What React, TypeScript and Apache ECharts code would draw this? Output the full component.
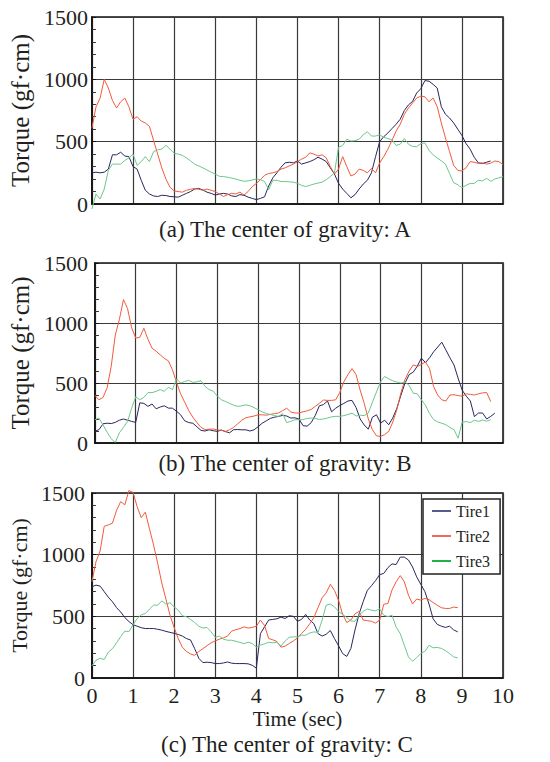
import React, { useEffect, useRef } from "react";
import * as echarts from "echarts";

// sampling step of the traces (seconds)
const DT = 0.1;

const X_TICKS = [0, 1, 2, 3, 4, 5, 6, 7, 8, 9, 10];
const Y_TICKS = [0, 500, 1000, 1500];
const SERIES_NAMES = ["Tire1", "Tire2", "Tire3"];
const PANEL_TITLES = [
  "(a) The center of gravity: A",
  "(b) The center of gravity: B",
  "(c) The center of gravity: C",
];

// Panel A
const A_TIRE1 = [
  250, 255, 250, 255, 280, 395, 395, 415, 385, 380,
  300, 280, 190, 110, 80, 65, 60, 70, 68, 60,
  58, 55, 70, 85, 100, 120, 125, 112, 95, 85,
  72, 80, 85, 80, 65, 60, 75, 70, 55, 45,
  35, 45, 58, 145, 210, 250, 295, 330, 335, 330,
  345, 320, 330, 340, 355, 375, 360, 340, 290, 240,
  166, 120, 85, 50, 75, 120, 160, 190, 250, 380,
  500, 540, 570, 605, 640, 680, 750, 795, 823, 890,
  925, 990, 985, 960, 930, 780, 720, 690, 650, 600,
  550, 485, 440, 375, 330, 325, 335, 345,
];
const A_TIRE2 = [
  608, 780, 850, 1000, 930, 830, 770, 820, 850, 780,
  680, 700, 665, 650, 622, 510, 400, 290, 200, 135,
  105, 100, 95, 110, 118, 125, 118, 110, 120, 110,
  100, 80, 60, 75, 86, 80, 95, 72, 100, 139,
  165, 195, 230, 245, 250, 260, 280, 290, 305, 320,
  340, 360, 375, 410, 400, 385, 395, 370, 300, 240,
  280, 380, 300, 225, 240, 280, 270, 250, 285, 250,
  330, 380, 440, 510, 585, 640, 720, 770, 810, 850,
  865, 860, 820, 850, 780, 650, 530, 420, 310, 270,
  265, 290, 340, 335, 325, 330, 320, 327, 345, 340,
  315,
];
const A_TIRE3 = [
  -40, 80, 40, 120, 270, 320, 320, 320, 350, 370,
  400, 310, 340, 380, 340, 420, 434, 440, 470, 440,
  407, 400, 390, 370, 345, 320, 305, 290, 273, 255,
  240, 222, 220, 215, 208, 200, 190, 182, 185, 193,
  200, 195, 180, 115, 190, 190, 180, 180, 178, 175,
  166, 150, 140, 150, 160, 168, 175, 195, 220, 250,
  455, 470, 520, 505, 508, 520, 555, 580, 545, 545,
  555, 535, 525, 515, 470, 480, 525, 480, 461, 460,
  485, 490, 430, 394, 370, 345, 320, 245, 170, 155,
  130, 150, 165, 165, 190, 185, 206, 182, 200, 210,
  220,
];

// Panel B
const B_TIRE1 = [
  97, 111, 160, 165, 162, 172, 190, 200, 190, 180,
  172, 335, 330, 305, 325, 285, 300, 310, 291, 290,
  265, 235, 185, 170, 165, 135, 105, 100, 110, 102,
  97, 108, 95, 85, 111, 112, 110, 110, 100, 110,
  136, 165, 185, 205, 215, 222, 230, 225, 208, 210,
  200, 145, 140, 170, 230, 310, 320, 350, 260, 290,
  312, 330, 350, 355, 295, 200, 150, 115, 215, 235,
  166, 190, 152, 210, 290, 400, 500, 570, 590, 640,
  707, 670, 710, 760, 800, 840, 776, 710, 650, 540,
  440, 390, 350, 220, 250, 250, 200, 222, 249,
];
const B_TIRE2 = [
  396, 360, 380, 460, 640, 900, 1030, 1195, 1120, 960,
  875, 880, 956, 865, 790, 765, 735, 705, 685, 610,
  505, 410, 340, 270, 215, 170, 130, 112, 115, 116,
  110, 105, 97, 110, 130, 160, 190, 210, 218, 225,
  235, 235, 232, 238, 245, 250, 270, 290, 258, 250,
  250, 260, 268, 280, 305, 330, 358, 355, 355, 360,
  420, 510, 570, 620, 570, 440, 330, 200, 110, 60,
  55, 70, 97, 175, 280, 420, 530, 600, 651, 638,
  655, 675, 620, 470, 400, 360, 350, 400, 402, 395,
  390, 410, 405, 400, 410, 418, 420, 345,
];
const B_TIRE3 = [
  194, 208, 150, 90, 35, 5, 85, 130, 180, 290,
  385, 360, 380, 420, 420, 430, 445, 430, 465, 445,
  535, 500, 512, 522, 505, 510, 520, 471, 445, 432,
  390, 360, 346, 330, 315, 305, 310, 318, 310, 295,
  277, 260, 245, 238, 228, 222, 245, 170, 180, 194,
  194, 195, 205, 208, 205, 196, 200, 208, 218, 222,
  222, 228, 238, 249, 225, 232, 228, 250, 340, 425,
  512, 555, 535, 518, 508, 500, 508, 480, 415, 410,
  360, 315, 245, 195, 175, 165, 152, 130, 111, 40,
  175, 178, 170, 190, 180, 192, 182, 194,
];

// Panel C
const C_TIRE1 = [
  740, 753, 745, 700, 655, 618, 570, 535, 490, 458,
  432, 420, 408, 401, 401, 401, 395, 388, 378, 370,
  362, 353, 340, 320, 308, 238, 160, 125, 128, 125,
  117, 117, 122, 130, 120, 117, 117, 117, 115, 103,
  80, 360, 415, 470, 475, 480, 494, 482, 505, 500,
  460, 475, 515, 470, 440, 360, 340, 355, 385, 320,
  262, 198, 175, 240, 390, 520, 620, 710, 748, 790,
  838, 848, 895, 925, 920, 980, 980, 957, 900, 820,
  760, 700, 600, 480, 435, 420, 410, 420, 390, 374,
];
const C_TIRE2 = [
  780, 943, 1030, 1230, 1241, 1255, 1360, 1430, 1404, 1520,
  1505, 1390, 1300, 1345, 1210, 1079, 930, 770, 640, 509,
  410, 320, 250, 215, 195, 184, 215, 238, 262, 285,
  300, 315, 325, 340, 380, 392, 400, 415, 405, 410,
  420, 470, 425, 320, 310, 296, 250, 258, 280, 300,
  325, 360, 395, 440, 490, 570, 650, 690, 760, 710,
  630, 515, 450, 470, 520, 540, 470, 465, 460, 445,
  470, 598, 604, 713, 780, 830, 780, 672, 600, 640,
  632, 645, 635, 612, 590, 570, 564, 564, 575, 570,
];
const C_TIRE3 = [
  98, 144, 160, 150, 210, 238, 285, 335, 380, 376,
  430, 482, 512, 523, 558, 591, 590, 625, 600, 610,
  577, 550, 505, 496, 475, 450, 420, 405, 410, 374,
  330, 340, 315, 306, 306, 298, 288, 279, 290, 280,
  252, 266, 277, 290, 285, 290, 260, 300, 330, 333,
  335, 347, 347, 365, 374, 368, 470, 591, 600, 577,
  540, 515, 490, 462, 460, 509, 540, 560, 550, 545,
  560, 509, 498, 509, 412, 360, 265, 171, 135, 165,
  200, 215, 265, 245, 248, 240, 222, 198, 171, 163,
];

const PANELS = [
  [A_TIRE1, A_TIRE2, A_TIRE3],
  [B_TIRE1, B_TIRE2, B_TIRE3],
  [C_TIRE1, C_TIRE2, C_TIRE3],
];

const COLORS = ["#27275f", "#f25a3a", "#6cc78d"];
const LEGEND_COLORS = ["#5a5a8c", "#f36a5a", "#22b04b"];
const FONT = "Liberation Serif";
const TEXT = "#231f20";

const GRIDS = [
  { left: 83, top: 17, width: 420, height: 187, labelMargin: 4, nameGap: 51, nameSize: 25 },
  { left: 86, top: 263, width: 417, height: 180, labelMargin: 7, nameGap: 54, nameSize: 25 },
  { left: 86, top: 493, width: 417, height: 185, labelMargin: 7, nameGap: 48, nameSize: 22 },
];
const TITLE_POS = [
  { x: 285, y: 229 },
  { x: 285, y: 463 },
  { x: 287, y: 744 },
];

function toPoints(vals: number[]) {
  return vals.map((v, i) => [Math.round(i * DT * 100) / 100, v]);
}

export default function App() {
  const ref = useRef<HTMLDivElement>(null);

  useEffect(() => {
    if (!ref.current) return;
    const chart = echarts.init(ref.current, undefined, { renderer: "svg" });

    const grid = GRIDS.map((g) => ({
      left: g.left,
      top: g.top,
      width: g.width,
      height: g.height,
      show: true,
      borderColor: "#111",
      borderWidth: 1.5,
      backgroundColor: "#fff",
    }));

    const xAxis = GRIDS.map((g, i) => ({
      type: "value",
      gridIndex: i,
      min: X_TICKS[0],
      max: X_TICKS[X_TICKS.length - 1],
      interval: 1,
      axisLine: { show: true, lineStyle: { color: "#111", width: 1.5 } },
      axisTick: { show: false },
      splitLine: { show: true, lineStyle: { color: "#3a3a3a", width: 1.2 } },
      axisLabel: {
        show: i === 2,
        fontFamily: FONT,
        fontSize: 22,
        color: TEXT,
        margin: 6,
        formatter: (v: number) => String(v),
      },
      name: i === 2 ? "Time (sec)" : "",
      nameLocation: "middle",
      nameGap: 30,
      nameTextStyle: { fontFamily: FONT, fontSize: 21, color: TEXT },
    }));

    const yAxis = GRIDS.map((g, i) => ({
      type: "value",
      gridIndex: i,
      min: Y_TICKS[0],
      max: Y_TICKS[Y_TICKS.length - 1],
      interval: 500,
      axisLine: { show: true, lineStyle: { color: "#111", width: 1.5 } },
      axisTick: { show: true, inside: true, length: 4, lineStyle: { color: "#111" } },
      minorTick: { show: true, splitNumber: 5, length: 4, lineStyle: { color: "#333", width: 1 } },
      splitLine: { show: true, lineStyle: { color: "#3a3a3a", width: 1.2 } },
      axisLabel: {
        fontFamily: FONT,
        fontSize: 22,
        color: TEXT,
        margin: g.labelMargin,
        formatter: (v: number) => String(v),
      },
      name: "Torque (gf\u00b7cm)",
      nameLocation: "middle",
      nameGap: g.nameGap,
      nameTextStyle: { fontFamily: FONT, fontSize: g.nameSize, color: TEXT },
    }));

    const series: any[] = [];
    PANELS.forEach((panel, pi) => {
      panel.forEach((vals, si) => {
        series.push({
          name: SERIES_NAMES[si],
          type: "line",
          xAxisIndex: pi,
          yAxisIndex: pi,
          data: toPoints(vals),
          showSymbol: false,
          symbol: "none",
          clip: false,
          color: COLORS[si],
          lineStyle: { width: 1, color: COLORS[si] },
          z: 3,
        });
      });
    });

    const graphic = PANEL_TITLES.map((t, i) => ({
      type: "text",
      x: TITLE_POS[i].x,
      y: TITLE_POS[i].y,
      style: {
        text: t,
        fontFamily: FONT,
        fontSize: 23,
        fill: TEXT,
        textAlign: "center",
        textVerticalAlign: "middle",
        align: "center",
        verticalAlign: "middle",
      },
    }));

    chart.setOption({
      animation: false,
      backgroundColor: "#fff",
      textStyle: { fontFamily: FONT },
      grid,
      xAxis,
      yAxis,
      series,
      graphic,
      legend: {
        data: SERIES_NAMES.map((n, i) => ({
          name: n,
          icon: "rect",
          itemStyle: { color: LEGEND_COLORS[i] },
        })),
        orient: "vertical",
        left: 423,
        top: 499,
        itemWidth: 19,
        itemHeight: 2,
        itemGap: 9,
        padding: [4, 10, 5, 9],
        borderColor: "#222",
        borderWidth: 1.5,
        backgroundColor: "#fff",
        textStyle: { fontFamily: FONT, fontSize: 16, color: TEXT, lineHeight: 16 },
        z: 10,
      },
    });

    return () => chart.dispose();
  }, []);

  return (
    <div
      ref={ref}
      style={{ position: "fixed", left: 0, top: 0, width: 550, height: 762, background: "#fff" }}
    />
  );
}
